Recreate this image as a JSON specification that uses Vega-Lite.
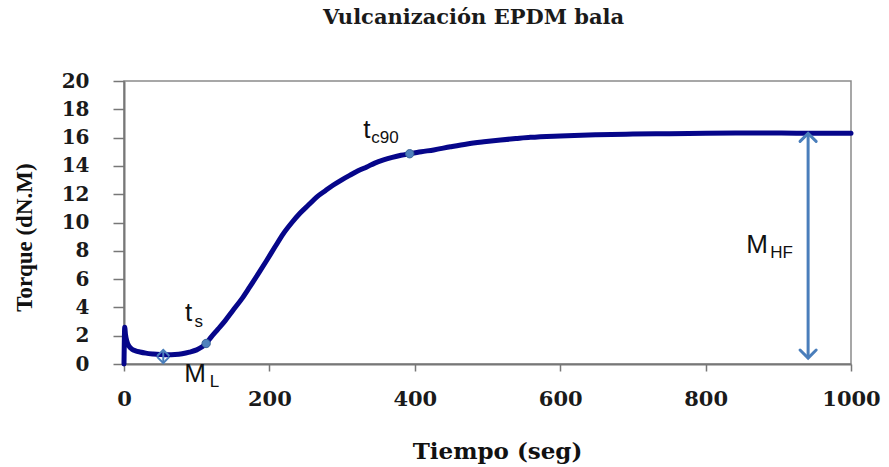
{
  "$schema": "https://vega.github.io/schema/vega-lite/v6.json",
  "width": 727,
  "height": 283,
  "autosize": {"type": "none"},
  "padding": {"left": 124, "top": 81, "right": 38, "bottom": 103},
  "background": "white",
  "title": {
    "text": "Vulcanización EPDM bala",
    "font": "DejaVu Serif",
    "fontWeight": "bold",
    "fontSize": 21,
    "color": "#1a1a1a",
    "anchor": "middle",
    "baseline": "alphabetic",
    "offset": 26,
    "dx": -14
  },
  "config": {
    "view": {"stroke": "#8a8a8a", "strokeWidth": 1.5},
    "axis": {"grid": false}
  },
  "datasets": {
    "curva": [
      {"t": 0, "torque": 0.0},
      {"t": 1, "torque": 2.6},
      {"t": 2, "torque": 2.1},
      {"t": 4, "torque": 1.6},
      {"t": 7, "torque": 1.25},
      {"t": 11, "torque": 1.05},
      {"t": 16, "torque": 0.93},
      {"t": 22, "torque": 0.85},
      {"t": 30, "torque": 0.77},
      {"t": 40, "torque": 0.71},
      {"t": 50, "torque": 0.67},
      {"t": 60, "torque": 0.65},
      {"t": 70, "torque": 0.67},
      {"t": 80, "torque": 0.73},
      {"t": 90, "torque": 0.84},
      {"t": 100, "torque": 1.0},
      {"t": 107, "torque": 1.2},
      {"t": 113, "torque": 1.45},
      {"t": 119, "torque": 1.85},
      {"t": 129, "torque": 2.45},
      {"t": 139, "torque": 3.05},
      {"t": 150, "torque": 3.8},
      {"t": 162, "torque": 4.6},
      {"t": 173, "torque": 5.45},
      {"t": 185, "torque": 6.4},
      {"t": 196, "torque": 7.3},
      {"t": 208, "torque": 8.3},
      {"t": 219, "torque": 9.2},
      {"t": 231, "torque": 10.0},
      {"t": 242, "torque": 10.65},
      {"t": 254, "torque": 11.25},
      {"t": 265, "torque": 11.8},
      {"t": 277, "torque": 12.25},
      {"t": 288, "torque": 12.65},
      {"t": 299, "torque": 13.0},
      {"t": 311, "torque": 13.35},
      {"t": 322, "torque": 13.65},
      {"t": 334, "torque": 13.93},
      {"t": 345, "torque": 14.2},
      {"t": 357, "torque": 14.42},
      {"t": 369, "torque": 14.6},
      {"t": 381, "torque": 14.75},
      {"t": 393, "torque": 14.86},
      {"t": 409, "torque": 15.0},
      {"t": 426, "torque": 15.13},
      {"t": 449, "torque": 15.35},
      {"t": 472, "torque": 15.55},
      {"t": 495, "torque": 15.7},
      {"t": 518, "torque": 15.83},
      {"t": 539, "torque": 15.93},
      {"t": 559, "torque": 16.02},
      {"t": 600, "torque": 16.12},
      {"t": 650, "torque": 16.2},
      {"t": 700, "torque": 16.25},
      {"t": 750, "torque": 16.28},
      {"t": 800, "torque": 16.3},
      {"t": 850, "torque": 16.32},
      {"t": 900, "torque": 16.32},
      {"t": 950, "torque": 16.3},
      {"t": 1000, "torque": 16.3}
    ],
    "puntos": [
      {"punto": "ts", "t": 113, "torque": 1.45},
      {"punto": "tc90", "t": 393, "torque": 14.86}
    ],
    "flechas": [
      {"flecha": "MHF", "t": 941, "torque": 0.42, "torque2": 16.3},
      {"flecha": "ML", "t": 54, "torque": 0.07, "torque2": 1.0}
    ],
    "letras": [
      {"texto": "t", "t": 84, "torque": 3.05},
      {"texto": "t", "t": 329, "torque": 16.0},
      {"texto": "M", "t": 856, "torque": 7.84},
      {"texto": "M", "t": 83, "torque": -1.27}
    ],
    "subindices": [
      {"texto": "s", "t": 97, "torque": 2.6},
      {"texto": "c90", "t": 340, "torque": 15.6},
      {"texto": "HF", "t": 889, "torque": 7.5},
      {"texto": "L", "t": 118, "torque": -1.63}
    ]
  },
  "encoding": {
    "x": {
      "field": "t",
      "type": "quantitative",
      "scale": {"domain": [0, 1000], "nice": false, "zero": false},
      "axis": {
        "title": "Tiempo (seg)",
        "values": [0, 200, 400, 600, 800, 1000],
        "format": "d",
        "domainColor": "#777777",
        "domainWidth": 2,
        "tickColor": "#777777",
        "tickWidth": 1.5,
        "tickSize": 7,
        "labelFont": "DejaVu Serif",
        "labelFontWeight": "bold",
        "labelFontSize": 21,
        "labelColor": "#1a1a1a",
        "labelBaseline": "alphabetic",
        "labelPadding": 34,
        "labelFlush": false,
        "titleFont": "DejaVu Serif",
        "titleFontWeight": "bold",
        "titleFontSize": 23,
        "titleColor": "#111111",
        "titleBaseline": "alphabetic",
        "titleAlign": "center",
        "titleX": 373,
        "titleY": 94
      }
    },
    "y": {
      "field": "torque",
      "type": "quantitative",
      "scale": {"domain": [0, 20], "nice": false, "zero": false},
      "axis": {
        "title": "Torque (dN.M)",
        "values": [0, 2, 4, 6, 8, 10, 12, 14, 16, 18, 20],
        "domainColor": "#777777",
        "domainWidth": 2,
        "tickColor": "#777777",
        "tickWidth": 1.5,
        "tickSize": 11,
        "labelFont": "DejaVu Serif",
        "labelFontWeight": "bold",
        "labelFontSize": 20,
        "labelColor": "#1a1a1a",
        "labelPadding": 24,
        "labelBaseline": "middle",
        "labelFlush": false,
        "titleFont": "Liberation Serif",
        "titleFontWeight": "bold",
        "titleFontSize": 23,
        "titleColor": "#111111",
        "titleAngle": -90,
        "titleAlign": "center",
        "titleBaseline": "alphabetic",
        "titleX": -93,
        "titleY": 156
      }
    }
  },
  "layer": [
    {
      "data": {"name": "curva"},
      "mark": {"type": "line", "color": "#06068a", "strokeWidth": 5, "interpolate": "monotone", "strokeJoin": "round", "strokeCap": "round"}
    },
    {
      "data": {"name": "puntos"},
      "mark": {"type": "point", "shape": "circle", "filled": true, "size": 70, "color": "#4f81bd", "stroke": "#3a6496", "strokeWidth": 1, "opacity": 1}
    },
    {
      "data": {"name": "flechas"},
      "transform": [{"filter": "datum.flecha === 'MHF'"}],
      "mark": {"type": "rule", "color": "#4a7ebb", "strokeWidth": 3},
      "encoding": {"y2": {"field": "torque2"}}
    },
    {
      "data": {"name": "flechas"},
      "transform": [{"filter": "datum.flecha === 'MHF'"}],
      "mark": {"type": "point", "shape": "M-1,1L0,0L1,1", "filled": false, "size": 260, "stroke": "#4a7ebb", "strokeWidth": 3, "opacity": 1, "strokeCap": "round"},
      "encoding": {"y": {"field": "torque2", "type": "quantitative"}}
    },
    {
      "data": {"name": "flechas"},
      "transform": [{"filter": "datum.flecha === 'MHF'"}],
      "mark": {"type": "point", "shape": "M-1,-1L0,0L1,-1", "filled": false, "size": 260, "stroke": "#4a7ebb", "strokeWidth": 3, "opacity": 1, "strokeCap": "round"}
    },
    {
      "data": {"name": "flechas"},
      "transform": [{"filter": "datum.flecha === 'ML'"}],
      "mark": {"type": "rule", "color": "#4a7ebb", "strokeWidth": 2},
      "encoding": {"y2": {"field": "torque2"}}
    },
    {
      "data": {"name": "flechas"},
      "transform": [{"filter": "datum.flecha === 'ML'"}],
      "mark": {"type": "point", "shape": "M-1,1L0,0L1,1", "filled": false, "size": 150, "stroke": "#4a7ebb", "strokeWidth": 2, "opacity": 1},
      "encoding": {"y": {"field": "torque2", "type": "quantitative"}}
    },
    {
      "data": {"name": "flechas"},
      "transform": [{"filter": "datum.flecha === 'ML'"}],
      "mark": {"type": "point", "shape": "M-1,-1L0,0L1,-1", "filled": false, "size": 150, "stroke": "#4a7ebb", "strokeWidth": 2, "opacity": 1}
    },
    {
      "data": {"name": "letras"},
      "mark": {"type": "text", "font": "Liberation Sans", "fontSize": 26, "color": "#111111", "align": "left", "baseline": "alphabetic"},
      "encoding": {"text": {"field": "texto"}}
    },
    {
      "data": {"name": "subindices"},
      "mark": {"type": "text", "font": "Liberation Sans", "fontSize": 17, "color": "#111111", "align": "left", "baseline": "alphabetic"},
      "encoding": {"text": {"field": "texto"}}
    }
  ]
}
